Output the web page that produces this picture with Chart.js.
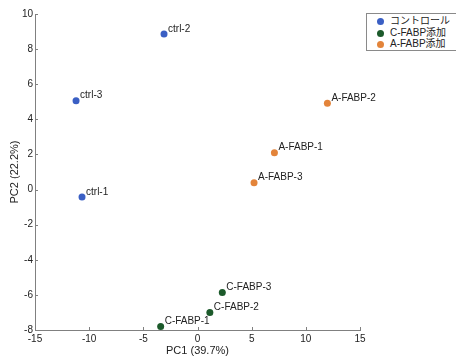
<!DOCTYPE html>
<html>
<head>
<meta charset="utf-8">
<script src="https://cdn.jsdelivr.net/npm/chart.js@4"></script>
<style>
  body { margin: 0; background: #fff; }
  #wrap { position: relative; width: 456px; height: 360px; overflow: hidden; }
  #legend {
    position: absolute; left: 366px; top: 13px; width: 96px; height: 36px;
    border: 1px solid #8a8a8a; background: #fff;
    font: 10px "Liberation Sans", "Noto Sans CJK JP", sans-serif; color: #222;
  }
  #legend div { position: absolute; left: 0; height: 12px; line-height: 12px; }
  #legend span.dot {
    position: absolute; left: 10px; top: 3px; width: 7px; height: 7px; border-radius: 50%;
  }
  #legend span.txt { position: absolute; left: 23px; white-space: nowrap; }
</style>
</head>
<body>
<div id="wrap">
  <canvas id="pca" width="456" height="360"></canvas>
  <div id="legend"></div>
</div>
<script>
// group names (legend) and colours
const groups = ["コントロール", "C-FABP添加", "A-FABP添加"];
const colors = ["#3a5fc4", "#1c5a2b", "#e3843a"];

// sample labels and scores per group
const ctrlLabels = ["ctrl-1", "ctrl-2", "ctrl-3"];
const ctrlPC1 = [-10.66, -3.09, -11.21];
const ctrlPC2 = [-0.42, 8.86, 5.06];

const cLabels = ["C-FABP-1", "C-FABP-2", "C-FABP-3"];
const cPC1 = [-3.4, 1.14, 2.29];
const cPC2 = [-7.8, -7.01, -5.87];

const aLabels = ["A-FABP-1", "A-FABP-2", "A-FABP-3"];
const aPC1 = [7.1, 11.99, 5.22];
const aPC2 = [2.1, 4.91, 0.39];

const xTicks = [-15, -10, -5, 0, 5, 10, 15];
const yTicks = [-8, -6, -4, -2, 0, 2, 4, 6, 8, 10];

const FONT = "'Liberation Sans', Arial, sans-serif";

function pts(xs, ys) {
  return xs.map((x, i) => ({ x: x, y: ys[i] }));
}

const allLabels = [ctrlLabels, cLabels, aLabels];

/* point name next to every dot */
const pointLabels = {
  id: "pointLabels",
  afterDatasetsDraw(chart) {
    const ctx = chart.ctx;
    ctx.save();
    ctx.font = "10px " + FONT;
    ctx.fillStyle = "#222";
    ctx.textBaseline = "middle";
    ctx.textAlign = "left";
    chart.data.datasets.forEach((ds, di) => {
      chart.getDatasetMeta(di).data.forEach((el, i) => {
        ctx.fillText(allLabels[di][i], el.x + 4, el.y - 5);
      });
    });
    ctx.restore();
  },
};

/* inward tick marks on the two axes */
const innerTicks = {
  id: "innerTicks",
  afterDraw(chart) {
    const ctx = chart.ctx;
    const xs = chart.scales.x, ys = chart.scales.y;
    const a = chart.chartArea;
    ctx.save();
    ctx.strokeStyle = "#808080";
    ctx.lineWidth = 1;
    ctx.beginPath();
    xTicks.forEach((v) => {
      const px = Math.round(xs.getPixelForValue(v)) + 0.5;
      ctx.moveTo(px, a.bottom);
      ctx.lineTo(px, a.bottom - 3);
    });
    yTicks.forEach((v) => {
      const py = Math.round(ys.getPixelForValue(v)) + 0.5;
      ctx.moveTo(a.left, py);
      ctx.lineTo(a.left + 3, py);
    });
    ctx.stroke();
    ctx.restore();
  },
};

const chart = new Chart(document.getElementById("pca"), {
  type: "scatter",
  data: {
    datasets: [
      { label: groups[0], data: pts(ctrlPC1, ctrlPC2), backgroundColor: colors[0], borderColor: colors[0] },
      { label: groups[1], data: pts(cPC1, cPC2), backgroundColor: colors[1], borderColor: colors[1] },
      { label: groups[2], data: pts(aPC1, aPC2), backgroundColor: colors[2], borderColor: colors[2] },
    ],
  },
  options: {
    responsive: false,
    animation: false,
    layout: { padding: { top: 14, right: 96, left: 0, bottom: 0 } },
    elements: { point: { radius: 3.5, borderWidth: 0 } },
    plugins: { legend: { display: false }, tooltip: { enabled: false } },
    scales: {
      x: {
        type: "linear",
        min: -15, max: 15,
        afterBuildTicks: (s) => { s.ticks = xTicks.map((v) => ({ value: v })); },
        afterFit: (s) => { s.height = 30; },
        border: { display: true, color: "#808080" },
        grid: { display: false, drawTicks: false },
        ticks: { font: { family: FONT, size: 10 }, color: "#222", padding: 3 },
        title: { display: true, text: "PC1 (39.7%)", font: { family: FONT, size: 11 }, color: "#222", padding: { top: 0, bottom: 2 } },
      },
      y: {
        type: "linear",
        min: -8, max: 10,
        afterBuildTicks: (s) => { s.ticks = yTicks.map((v) => ({ value: v })); },
        afterFit: (s) => { s.width = 35; },
        border: { display: true, color: "#808080" },
        grid: { display: false, drawTicks: false },
        ticks: { font: { family: FONT, size: 10 }, color: "#222", padding: 2 },
        title: { display: true, text: "PC2 (22.2%)", font: { family: FONT, size: 11 }, color: "#222", padding: { top: 8, bottom: 0 } },
      },
    },
  },
  plugins: [pointLabels, innerTicks],
});

/* legend box, top right */
const leg = document.getElementById("legend");
groups.forEach((g, i) => {
  const row = document.createElement("div");
  row.style.top = (1 + i * 11.5) + "px";
  row.style.width = "100%";
  row.innerHTML = '<span class="dot" style="background:' + colors[i] + '"></span><span class="txt">' + g + "</span>";
  leg.appendChild(row);
});
</script>
</body>
</html>
